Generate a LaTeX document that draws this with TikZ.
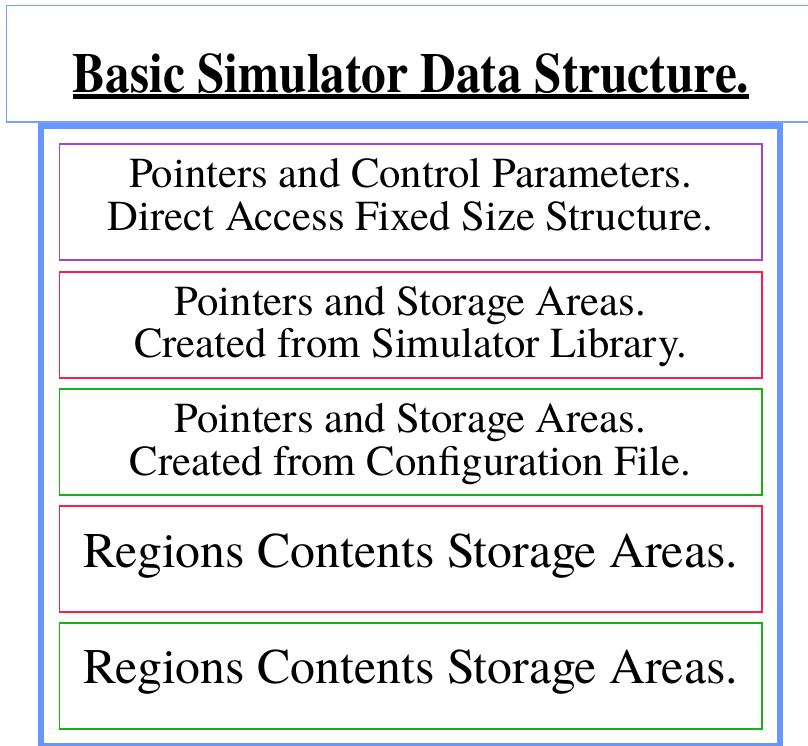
\documentclass[tikz,border=0pt]{standalone}
\usepackage{fontspec}
\setmainfont{TeX Gyre Termes}
\definecolor{frameblue}{RGB}{102,150,255}
\definecolor{titleblue}{RGB}{120,160,255}
\definecolor{boxpurple}{RGB}{160,68,224}
\definecolor{boxred}{RGB}{255,28,72}
\definecolor{boxgreen}{RGB}{20,178,20}
\tikzset{
  inbox/.style={draw, line width=1.6pt, minimum width=702.7pt, inner sep=0pt, outer sep=0pt},
  smalltext/.style={anchor=base, inner sep=0pt, font=\fontsize{42.7pt}{43pt}\selectfont},
  bigtext/.style={anchor=base, inner sep=0pt, font=\fontsize{49.8pt}{50pt}\selectfont},
  titletext/.style={anchor=base, inner sep=0pt, font=\fontsize{49.3pt}{50pt}\selectfont\bfseries},
}
\begin{document}
\begin{tikzpicture}[x=1pt,y=-1pt]
  \useasboundingbox (0,0) rectangle (808,746);
  \clip (0,0) rectangle (808,746);

  % title panel
  \draw[titleblue, line width=1.6pt] (6.5,5.5) rectangle (815,122);
  \node[titletext] (title) at (411,92.5) {\scalebox{1}[1.14]{Basic Simulator Data Structure.}};
  \draw[black, line width=4.6pt] (title.base west) ++(0,4) coordinate (ul1) -- (title.base east |- ul1) coordinate (ul2);

  % outer frame
  \draw[frameblue, line width=6pt] (41,126) rectangle (780,746);

  % stacked storage boxes
  \node[inbox, draw=boxpurple, minimum height=116pt] (b1) at (410.65,202) {};
  \node[inbox, draw=boxred,    minimum height=106pt] (b2) at (410.65,325) {};
  \node[inbox, draw=boxgreen,  minimum height=106pt] (b3) at (410.65,442) {};
  \node[inbox, draw=boxred,    minimum height=106pt] (b4) at (410.65,559) {};
  \node[inbox, draw=boxgreen,  minimum height=106pt] (b5) at (410.65,676) {};

  \node[smalltext] (t1a) at (410.5,188) {Pointers and Control Parameters.};
  \node[smalltext] (t1b) at (410.5,230) {Direct Access Fixed Size Structure.};
  \node[smalltext] (t2a) at (410.5,315.3) {Pointers and Storage Areas.};
  \node[smalltext] (t2b) at (410.5,357) {Created from Simulator Library.};
  \node[smalltext] (t3a) at (410.5,432.7) {Pointers and Storage Areas.};
  \node[smalltext] (t3b) at (410.5,475) {Created from Configuration File.};
  \node[bigtext] (t4) at (410.5,567.7) {Regions Contents Storage Areas.};
  \node[bigtext] (t5) at (410.5,683.3) {Regions Contents Storage Areas.};
\end{tikzpicture}
\end{document}
